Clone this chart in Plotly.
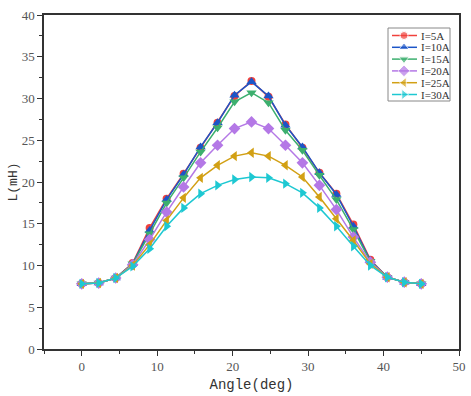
import plotly.graph_objects as go

angle = [0, 2.25, 4.5, 6.75, 9, 11.25, 13.5, 15.75, 18, 20.25, 22.5,
         24.75, 27, 29.25, 31.5, 33.75, 36, 38.25, 40.5, 42.75, 45]
i5 = [7.8, 7.9, 8.5, 10.3, 14.5, 18.0, 21.0, 24.1, 27.1, 30.3, 32.1,
      30.2, 26.9, 24.1, 21.1, 18.6, 14.9, 10.7, 8.6, 8.0, 7.8]
i10 = [7.8, 7.9, 8.5, 10.2, 14.2, 17.9, 20.9, 24.2, 27.1, 30.4, 32.0,
       30.3, 26.8, 24.2, 21.1, 18.5, 14.7, 10.6, 8.6, 8.0, 7.8]
i15 = [7.8, 7.9, 8.5, 10.2, 13.8, 17.5, 20.5, 23.6, 26.5, 29.6, 30.7,
       29.5, 26.2, 23.8, 20.8, 17.9, 14.3, 10.5, 8.6, 8.0, 7.8]
i20 = [7.8, 7.9, 8.5, 10.1, 13.1, 16.4, 19.4, 22.3, 24.4, 26.4, 27.2,
       26.4, 24.4, 22.3, 19.6, 16.7, 13.4, 10.4, 8.6, 8.0, 7.8]
i25 = [7.8, 7.9, 8.5, 10.0, 12.5, 15.4, 18.1, 20.5, 22.0, 23.1, 23.5,
       23.1, 22.0, 20.6, 18.2, 15.6, 13.0, 10.2, 8.6, 8.0, 7.8]
i30 = [7.8, 7.9, 8.5, 9.9, 12.0, 14.7, 16.9, 18.6, 19.6, 20.3, 20.6,
       20.5, 19.8, 18.7, 16.9, 14.7, 12.3, 10.0, 8.6, 8.0, 7.8]

names = ["I=5A", "I=10A", "I=15A", "I=20A", "I=25A", "I=30A"]
series = [i5, i10, i15, i20, i25, i30]
colors = ["#F0413C", "#1C55C8", "#3CAF6E", "#B478E6", "#D2A014", "#1EC8D2"]
symbols = ["circle", "triangle-up", "triangle-down", "diamond", "triangle-left", "triangle-right"]
sizes = [8, 9, 9, 9, 9, 9]

W, H = 471, 396
ML, MR, MT, MB = 44, 12, 15, 47
TITLE_FONT = "Liberation Mono, Courier New, monospace"

fig = go.Figure()
for n, s, c, m, sz in zip(names, series, colors, symbols, sizes):
    fig.add_trace(go.Scatter(
        x=angle, y=s, name=n, mode="lines+markers", showlegend=False,
        line=dict(color=c, width=1.5),
        marker=dict(symbol=m, size=sz, color=c),
    ))

# custom compact legend drawn on an overlay pixel-coordinate axis pair
LEG_X0, LEG_X1, LEG_Y0, LEG_Y1 = 388, 450, 28, 101
ROW0, ROW_STEP = 35.5, 11.8
for k, (n, c, m, sz) in enumerate(zip(names, colors, symbols, sizes)):
    ry = ROW0 + k * ROW_STEP
    fig.add_trace(go.Scatter(
        x=[LEG_X0 + 4, LEG_X0 + 16, LEG_X0 + 29], y=[ry, ry, ry],
        xaxis="x2", yaxis="y2", mode="lines+markers", showlegend=False,
        hoverinfo="skip",
        line=dict(color=c, width=1.5),
        marker=dict(symbol=m, size=[0, sz, 0], color=c),
    ))
    fig.add_annotation(
        x=LEG_X0 + 31, y=ry, xref="x2", yref="y2", text=n, showarrow=False,
        xanchor="left", yanchor="middle",
        font=dict(family="Liberation Serif", size=11, color="#333333"),
    )
fig.add_shape(type="rect", xref="x2", yref="y2",
              x0=LEG_X0, x1=LEG_X1, y0=LEG_Y0, y1=LEG_Y1,
              line=dict(color="#888888", width=1), fillcolor="rgba(255,255,255,0)",
              layer="below")

axis_common = dict(
    showline=True, linecolor="#333333", linewidth=1.5, mirror=True,
    ticks="outside", ticklen=5, tickwidth=1, tickcolor="#333333",
    showgrid=False, zeroline=False, automargin=False,
    tickfont=dict(family="Liberation Serif", size=13, color="#555555"),
)

fig.update_layout(
    width=W, height=H,
    margin=dict(l=ML, r=MR, t=MT, b=MB),
    paper_bgcolor="white", plot_bgcolor="white",
    showlegend=False,
    xaxis=dict(range=[-5, 50], dtick=10, tick0=0,
               minor=dict(ticks="outside", ticklen=3, dtick=5, tick0=0, tickcolor="#333333"),
               title=dict(text="Angle(deg)", standoff=6,
                          font=dict(family=TITLE_FONT, size=14, color="#333333")),
               **axis_common),
    yaxis=dict(range=[0, 40], dtick=5, tick0=0,
               minor=dict(ticks="outside", ticklen=3, dtick=2.5, tick0=0, tickcolor="#333333"),
               title=dict(text="L(mH)", standoff=1,
                          font=dict(family=TITLE_FONT, size=13, color="#333333")),
               **axis_common),
    xaxis2=dict(overlaying="x", range=[ML, W - MR], visible=False, fixedrange=True),
    yaxis2=dict(overlaying="y", range=[H - MB, MT], visible=False, fixedrange=True),
)

fig.write_html("out.html", config={"displayModeBar": False},
               post_script="document.body.style.margin='0';document.body.style.overflow='hidden';")
